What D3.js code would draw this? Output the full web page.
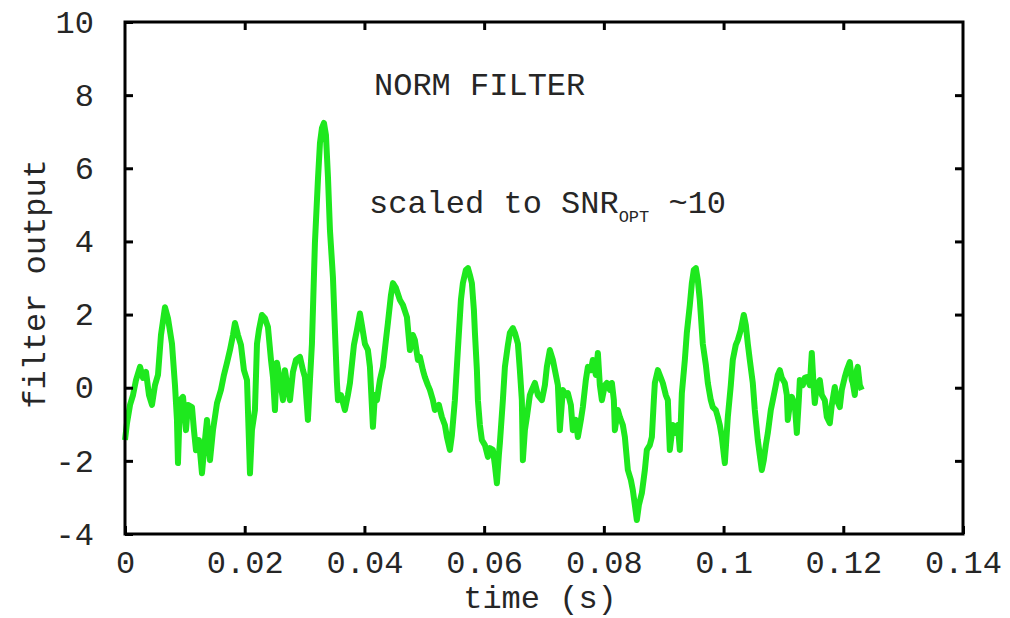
<!DOCTYPE html>
<html>
<head>
<meta charset="utf-8">
<script src="https://cdn.jsdelivr.net/npm/d3@7"></script>
<style>
  html, body { margin: 0; padding: 0; background: #ffffff; }
  svg { display: block; }
  text { font-family: "Liberation Mono", "DejaVu Sans Mono", monospace; fill: #262626; }
</style>
</head>
<body>
<svg id="chart" width="1010" height="618"></svg>
<script>
// ---- data (time in ms, filter output) ----
const timeMs = [
  0, 0.33, 0.84, 1.34, 1.84, 2.51, 3.01, 3.51, 4.01, 4.51, 5.01, 5.51, 6.01, 6.68, 7.18, 7.85, 8.35, 8.68, 8.85, 9.19,
  9.69, 10.19, 10.52, 11.19, 11.52, 11.86, 12.36, 12.86, 13.36, 13.70, 14.20, 14.70, 15.37, 16.03, 16.53, 17.04, 17.54, 18.04, 18.37, 18.87,
  19.37, 19.87, 20.38, 20.88, 21.21, 21.71, 22.05, 22.38, 22.88, 23.38, 23.88, 24.39, 24.72, 25.05, 25.39, 25.89, 26.39, 26.72, 27.22, 27.56,
  28.06, 28.56, 29.23, 29.73, 30.06, 30.56, 30.90, 31.23, 31.73, 32.23, 32.57, 32.90, 33.24, 33.57, 33.91, 34.24, 34.74, 35.07, 35.41, 35.58,
  36.08, 36.74, 37.24, 37.58, 38.25, 38.75, 39.25, 39.58, 40.08, 40.58, 40.92, 41.42, 41.75, 42.09, 42.59, 43.09, 43.59, 43.92, 44.43, 44.76,
  45.26, 45.93, 46.43, 47.10, 47.60, 48.10, 48.43, 48.93, 49.27, 49.77, 50.10, 50.60, 50.94, 51.44, 51.77, 52.44, 52.94, 53.44, 53.78, 54.28,
  54.61, 55.11, 55.61, 56.12, 56.45, 56.95, 57.29, 57.62, 57.95, 58.29, 58.46, 58.79, 58.96, 59.29, 59.62, 60.13, 60.63, 60.96, 61.46, 61.80,
  62.13, 62.46, 62.63, 63.13, 63.47, 63.97, 64.30, 64.80, 65.14, 65.64, 65.97, 66.30, 66.47, 66.81, 67.14, 67.64, 67.97, 68.48, 68.98, 69.65,
  70.15, 70.48, 70.98, 71.48, 71.82, 72.32, 72.65, 73.15, 73.65, 73.99, 74.49, 74.82, 75.32, 75.66, 76.16, 76.49, 76.99, 77.33, 77.83, 78.16,
  78.66, 79.00, 79.33, 79.67, 80.17, 80.50, 81.00, 81.34, 81.67, 81.84, 82.34, 82.67, 83.17, 83.51, 84.01, 84.51, 84.84, 85.18, 85.51, 85.85,
  86.35, 86.85, 87.18, 87.68, 88.02, 88.35, 88.52, 89.02, 89.52, 89.85, 90.35, 90.69, 91.02, 91.52, 91.86, 92.36, 92.69, 93.03, 93.53, 93.86,
  94.36, 94.70, 95.03, 95.37, 95.70, 96.03, 96.53, 97.04, 97.37, 97.87, 98.20, 98.70, 99.04, 99.37, 99.71, 100.21, 100.71, 101.21, 101.54, 102.04,
  102.38, 102.88, 103.38, 103.72, 104.05, 104.38, 104.88, 105.22, 105.72, 106.05, 106.39, 106.72, 107.06, 107.39, 107.89, 108.23, 108.73, 109.06, 109.40, 109.73,
  110.23, 110.57, 110.73, 111.07, 111.40, 111.90, 112.24, 112.57, 112.74, 113.24, 113.57, 113.91, 114.41, 114.74, 115.08, 115.24, 115.58, 116.08, 116.41, 116.91,
  117.25, 117.75, 118.08, 118.58, 118.92, 119.42, 119.75, 120.25, 120.59, 121.09, 121.42, 121.59, 121.92, 122.26, 122.42, 122.76, 123.09
];
const output = [
  -1.43, -0.97, -0.47, -0.20, 0.21, 0.57, 0.27, 0.43, -0.20, -0.47, 0.07, 0.35, 1.44, 2.20, 1.90, 1.20, 0.07, -0.88, -2.06, -0.34,
  -0.25, -1.16, -0.47, -0.53, -1.16, -1.71, -1.43, -2.34, -1.43, -0.88, -1.98, -1.16, -0.42, -0.06, 0.35, 0.68, 1.03, 1.44, 1.77, 1.44,
  1.17, 0.48, 0.21, -2.34, -1.16, -0.61, 1.20, 1.58, 1.99, 1.90, 1.66, 0.76, 0.29, -0.61, 0.68, 0.21, -0.34, 0.48, -0.06, -0.34,
  0.43, 0.76, 0.84, 0.48, 0.29, -0.88, 0.21, 1.20, 3.96, 5.68, 6.69, 7.10, 7.24, 6.91, 5.76, 4.31, 3.02, 1.58, 0.13, -0.34,
  -0.20, -0.61, -0.20, 0.13, 1.17, 1.58, 2.03, 1.71, 1.20, 1.03, 0.57, -1.07, -0.20, -0.34, 0.21, 0.57, 1.30, 1.77, 2.53, 2.86,
  2.73, 2.40, 2.26, 1.93, 1.03, 1.44, 1.30, 0.76, 0.84, 0.48, 0.29, 0.07, -0.06, -0.34, -0.61, -0.47, -0.80, -1.02, -1.35, -1.70,
  -1.30, -0.34, 1.03, 2.40, 2.86, 3.22, 3.27, 3.08, 2.86, 2.12, 1.50, 0.48, -0.34, -1.02, -1.43, -1.57, -1.89, -1.65, -1.70, -2.12,
  -2.61, -1.84, -1.51, -0.34, 0.57, 1.17, 1.50, 1.63, 1.50, 1.20, 0.48, -0.34, -1.98, -1.16, -0.80, -0.20, -0.06, 0.13, -0.20, -0.34,
  0.07, 0.57, 1.03, 0.76, 0.48, 0.07, -1.16, -0.06, -0.20, -0.15, -0.47, -1.16, -0.88, -1.35, -0.88, -0.53, 0.21, 0.57, 0.48, 0.76,
  0.35, 0.95, 0.07, -0.34, 0.07, 0.13, -0.06, 0.13, -0.34, -1.16, -0.61, -0.80, -1.02, -1.35, -2.25, -2.52, -2.80, -3.21, -3.62, -3.21,
  -2.88, -2.25, -1.70, -1.57, -1.35, -0.34, 0.13, 0.48, 0.27, 0.13, -0.20, -0.34, -1.70, -1.02, -1.24, -1.02, -1.70, -0.15, 0.76, 1.50,
  2.26, 2.86, 3.22, 3.27, 2.94, 2.40, 1.20, 0.62, 0.13, -0.34, -0.53, -0.61, -0.80, -1.02, -1.35, -2.06, -0.80, 0.07, 0.76, 1.17,
  1.30, 1.58, 1.99, 1.71, 1.20, 0.76, 0.13, -0.61, -1.43, -1.84, -2.25, -1.98, -1.57, -1.24, -0.61, -0.34, 0.07, 0.35, 0.48, 0.27,
  0.13, -0.20, -0.88, -0.47, -0.25, -0.47, -1.24, -0.34, 0.21, 0.07, 0.27, 0.29, 0.07, 0.95, -0.06, -0.42, 0.07, 0.21, -0.20, -0.34,
  -0.80, -0.97, -0.47, 0.02, -0.34, -0.53, -0.06, 0.29, 0.48, 0.70, 0.21, 0.13, -0.20, 0.48, 0.57, 0.07, -0.06
];
const xTicks = [0, 0.02, 0.04, 0.06, 0.08, 0.1, 0.12, 0.14];
const xTickLabels = ["0", "0.02", "0.04", "0.06", "0.08", "0.1", "0.12", "0.14"];
const yTicks = [-4, -2, 0, 2, 4, 6, 8, 10];
const yTickLabels = ["-4", "-2", "0", "2", "4", "6", "8", "10"];
const xLabel = "time (s)";
const yLabel = "filter output";
const title = "NORM FILTER";
const noteMain = "scaled to SNR";
const noteSub = "OPT";
const noteTail = " ~10";

// ---- layout ----
const L = 125, R = 963, T = 22, B = 534;
const FONT = 32;
const svg = d3.select("#chart");
svg.append("rect").attr("width", 1010).attr("height", 618).attr("fill", "#ffffff");

const x = d3.scaleLinear().domain([0, 0.14]).range([L, R]);
const y = d3.scaleLinear().domain([-4, 10]).range([B, T]);

const data = timeMs.map((t, i) => ({ t: t / 1000, v: output[i] }));

// line
const line = d3.line().x(d => x(d.t)).y(d => y(d.v));
svg.append("path")
  .datum(data)
  .attr("d", line)
  .attr("fill", "none")
  .attr("stroke", "#1ee81e")
  .attr("stroke-width", 6)
  .attr("stroke-linejoin", "round")
  .attr("stroke-linecap", "butt");

// axes
function styleAxis(g, showLabels) {
  g.select(".domain").remove();
  g.selectAll(".tick line").attr("stroke", "#000").attr("stroke-width", 3);
  g.selectAll(".tick text").attr("font-size", FONT).attr("fill", "#262626")
    .attr("font-family", '"Liberation Mono", "DejaVu Sans Mono", monospace');
  if (!showLabels) g.selectAll(".tick text").remove();
}
const xLabFmt = d => xTickLabels[xTicks.indexOf(d)];
const yLabFmt = d => yTickLabels[yTicks.indexOf(d)];

svg.append("g").attr("transform", `translate(0,${B})`)
  .call(d3.axisBottom(x).tickValues(xTicks).tickFormat(xLabFmt).tickSize(-8).tickPadding(16))
  .call(g => styleAxis(g, true));
svg.append("g").attr("transform", `translate(0,${T})`)
  .call(d3.axisTop(x).tickValues(xTicks.slice(1, -1)).tickSize(-8))
  .call(g => styleAxis(g, false));
svg.append("g").attr("transform", `translate(${L},0)`)
  .call(d3.axisLeft(y).tickValues(yTicks).tickFormat(yLabFmt).tickSize(-8).tickPadding(31))
  .call(g => styleAxis(g, true));
svg.append("g").attr("transform", `translate(${R},0)`)
  .call(d3.axisRight(y).tickValues(yTicks.slice(1, -1)).tickSize(-8))
  .call(g => styleAxis(g, false));

// frame
svg.append("rect")
  .attr("x", L).attr("y", T).attr("width", R - L).attr("height", B - T)
  .attr("fill", "none").attr("stroke", "#000").attr("stroke-width", 3);

// axis titles
svg.append("text")
  .attr("x", 540).attr("y", 608)
  .attr("text-anchor", "middle").attr("font-size", FONT)
  .text(xLabel);
svg.append("text")
  .attr("transform", "translate(45,284) rotate(-90)")
  .attr("text-anchor", "middle").attr("font-size", FONT)
  .text(yLabel);

// annotations
svg.append("text")
  .attr("x", 374).attr("y", 95)
  .attr("font-size", FONT)
  .text(title);
const note = svg.append("text")
  .attr("x", 369).attr("y", 213)
  .attr("font-size", FONT);
note.append("tspan").text(noteMain);
note.append("tspan").attr("font-size", 17).attr("dy", 9).text(noteSub);
note.append("tspan").attr("dy", -9).text(noteTail);
</script>
</body>
</html>
